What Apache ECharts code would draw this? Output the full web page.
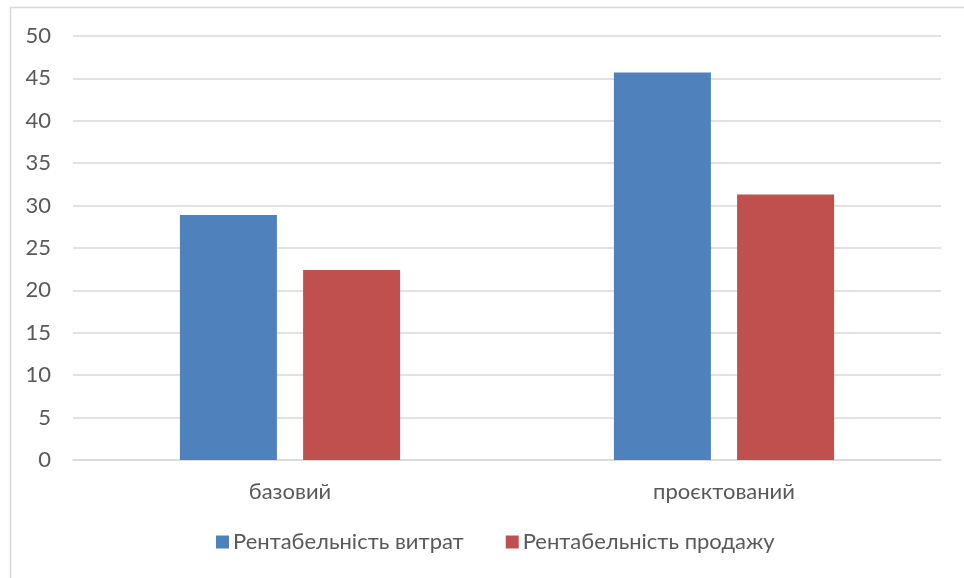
<!DOCTYPE html>
<html>
<head>
<meta charset="utf-8">
<style>
  html, body { margin: 0; padding: 0; background: #fff; }
  #chart { width: 964px; height: 578px; }
</style>
<script src="https://cdn.jsdelivr.net/npm/echarts@6/dist/echarts.min.js"></script>
</head>
<body>
<div id="chart"></div>
<script>
// Profitability indicators: base vs projected scenario
const categories = ['базовий', 'проєктований'];
const costProfitability = [28.9, 45.7];   // Рентабельність витрат
const salesProfitability = [22.4, 31.3];  // Рентабельність продажу
const seriesNames = ['Рентабельність витрат', 'Рентабельність продажу'];

const FONT = 'Lato, "Open Sans", "Noto Sans", sans-serif';
const TEXT = '#595959';
const GRID = '#d9d9d9';

const chart = echarts.init(document.getElementById('chart'), null, { renderer: 'canvas' });

chart.setOption({
  backgroundColor: '#ffffff',
  animation: false,
  textStyle: { fontFamily: FONT },
  graphic: [{
    type: 'rect',
    silent: true,
    shape: { x: 10.5, y: 7.5, width: 1000, height: 1000 },
    style: { fill: 'none', stroke: GRID, lineWidth: 1.5 }
  }],
  grid: { left: 73, right: 23, top: 36, bottom: 118, containLabel: false },
  legend: {
    data: seriesNames,
    bottom: 20,
    left: 211,
    itemWidth: 13,
    itemHeight: 13,
    itemGap: 42,
    icon: 'rect',
    textStyle: { color: TEXT, fontSize: 22, fontFamily: FONT, padding: [0, 0, 0, -1] }
  },
  xAxis: {
    type: 'category',
    data: categories,
    axisLine: { show: true, lineStyle: { color: GRID, width: 1.5 } },
    axisTick: { show: false },
    axisLabel: { color: TEXT, fontSize: 22, fontFamily: FONT, margin: 21 }
  },
  yAxis: {
    type: 'value',
    min: 0,
    max: 50,
    interval: 5,
    axisLine: { show: false },
    axisTick: { show: false },
    axisLabel: { color: TEXT, fontSize: 22, fontFamily: FONT, margin: 22 },
    splitLine: { lineStyle: { color: GRID, width: 1.5 } }
  },
  series: [
    {
      name: seriesNames[0],
      type: 'bar',
      data: costProfitability,
      barWidth: 97,
      barGap: '27%',
      itemStyle: { color: '#4f81bd' }
    },
    {
      name: seriesNames[1],
      type: 'bar',
      data: salesProfitability,
      barWidth: 97,
      barGap: '27%',
      itemStyle: { color: '#c0504d' }
    }
  ]
});
</script>
</body>
</html>
